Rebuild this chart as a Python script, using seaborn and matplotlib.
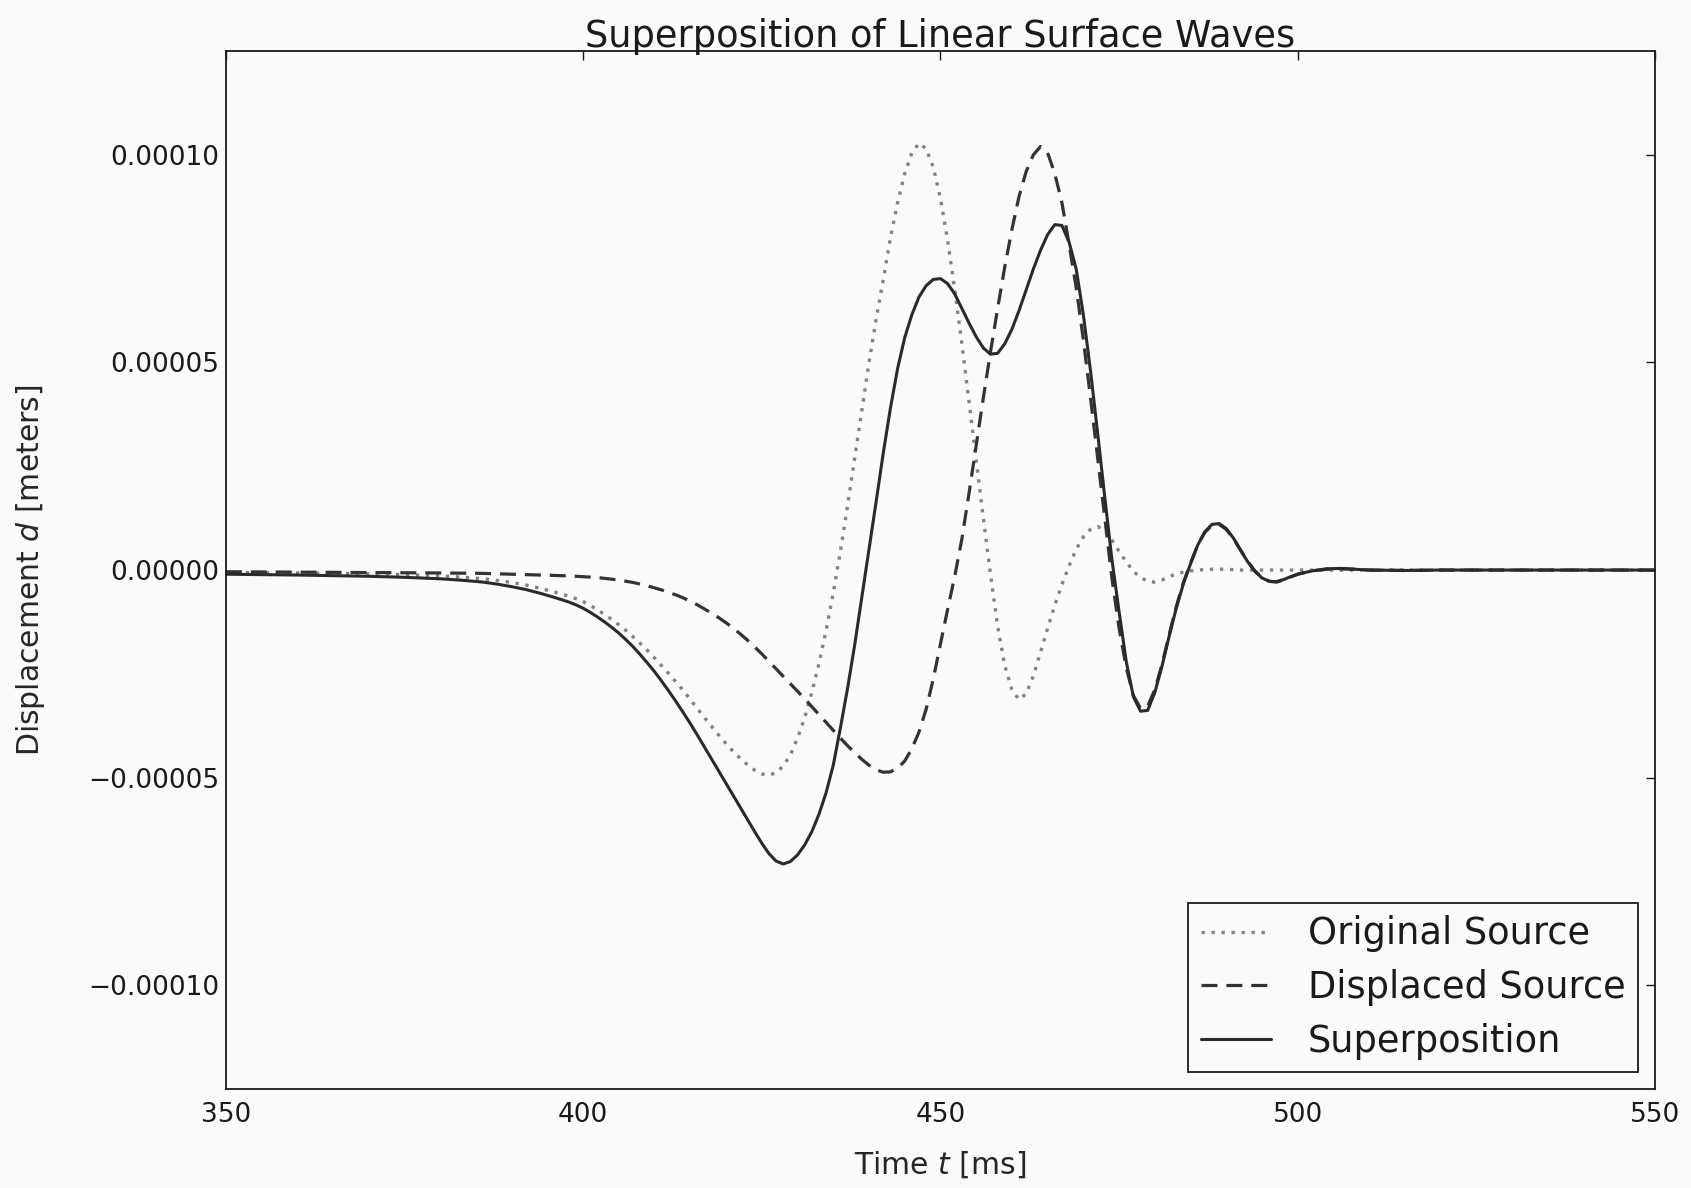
import matplotlib
matplotlib.use("Agg")
import matplotlib.pyplot as plt
from matplotlib.ticker import FixedLocator, FuncFormatter
import pandas as pd
import seaborn as sns

# Sample times (ms)
time_ms = [
    350, 355, 360, 365, 370, 375, 380, 383, 386, 388, 390, 392, 394, 396, 398, 399,
    400, 401, 402, 403, 404, 405, 406, 407, 408, 409,
    410, 411, 412, 413, 414, 415, 416, 417, 418, 419,
    420, 421, 422, 423, 424, 425, 426, 427, 428, 429,
    430, 431, 432, 433, 434, 435, 436, 437, 438, 439,
    440, 441, 442, 443, 444, 445, 446, 447, 448, 449,
    450, 451, 452, 453, 454, 455, 456, 457, 458, 459,
    460, 461, 462, 463, 464, 465, 466, 467, 468, 469,
    470, 471, 472, 473, 474, 475, 476, 477, 478, 479,
    480, 481, 482, 483, 484, 485, 486, 487, 488, 489,
    490, 491, 492, 493, 494, 495, 496, 497, 498, 499,
    500, 502, 504, 506, 508, 510, 515, 520, 530, 540, 550,
]

# Displacements in units of 1e-5 m
original_source = [
    -0.06, -0.065, -0.07, -0.08, -0.09, -0.11, -0.14, -0.17, -0.21, -0.25, -0.30, -0.36, -0.44, -0.53, -0.63, -0.69,
    -0.76, -0.85, -0.96, -1.07, -1.19, -1.32, -1.46, -1.61, -1.77, -1.94,
    -2.12, -2.31, -2.50, -2.70, -2.90, -3.12, -3.34, -3.56, -3.77, -3.98,
    -4.18, -4.37, -4.54, -4.69, -4.82, -4.91, -4.94, -4.88, -4.72, -4.45,
    -4.05, -3.55, -2.95, -2.25, -1.45, -0.55, 0.45, 1.55, 2.70, 3.85,
    5.00, 6.05, 7.00, 8.00, 8.85, 9.55, 10.05, 10.28, 10.15, 9.70,
    8.95, 7.95, 6.75, 5.45, 4.05, 2.65, 1.25, -0.10, -1.35, -2.30,
    -2.88, -3.12, -2.98, -2.55, -1.98, -1.40, -0.85, -0.35, 0.10, 0.50,
    0.80, 0.98, 1.05, 0.95, 0.72, 0.45, 0.20, -0.03, -0.18, -0.27,
    -0.29, -0.24, -0.16, -0.09, -0.05, -0.02, 0.00, 0.01, 0.02, 0.02,
    0.02, 0.01, 0.00, 0.00, 0.00, 0.00, 0.00, 0.00, 0.00, 0.00,
    0.00, 0.00, 0.00, 0.00, 0.00, 0.00, 0.00, 0.00, 0.00, 0.00, 0.00,
]

displaced_source = [
    -0.04, -0.045, -0.05, -0.055, -0.06, -0.065, -0.07, -0.075, -0.08, -0.09, -0.10, -0.11, -0.12, -0.13, -0.14, -0.15,
    -0.16, -0.17, -0.18, -0.20, -0.22, -0.24, -0.27, -0.30, -0.34, -0.38,
    -0.43, -0.48, -0.54, -0.60, -0.67, -0.75, -0.84, -0.94, -1.04, -1.15,
    -1.27, -1.40, -1.54, -1.69, -1.85, -2.02, -2.20, -2.38, -2.56, -2.74,
    -2.92, -3.10, -3.29, -3.48, -3.67, -3.86, -4.05, -4.23, -4.40, -4.56,
    -4.70, -4.81, -4.87, -4.86, -4.77, -4.60, -4.30, -3.90, -3.35, -2.62,
    -1.78, -0.95, -0.15, 0.75, 1.85, 3.00, 4.15, 5.25, 6.30, 7.30,
    8.20, 9.00, 9.60, 10.00, 10.20, 10.05, 9.55, 8.85, 7.85, 6.80,
    5.55, 4.15, 2.70, 1.25, -0.20, -1.40, -2.35, -3.02, -3.33, -3.28,
    -2.88, -2.28, -1.56, -0.88, -0.30, 0.17, 0.60, 0.91, 1.08, 1.10,
    0.98, 0.76, 0.48, 0.21, -0.02, -0.18, -0.27, -0.29, -0.24, -0.17,
    -0.10, -0.02, 0.02, 0.03, 0.02, 0.00, -0.01, 0.00, 0.00, 0.00, 0.00,
]

superposition = [
    -0.10, -0.11, -0.12, -0.135, -0.15, -0.175, -0.21, -0.245, -0.29, -0.34, -0.40, -0.47, -0.56, -0.66, -0.77, -0.84,
    -0.92, -1.02, -1.13, -1.25, -1.38, -1.52, -1.68, -1.85, -2.04, -2.24,
    -2.45, -2.68, -2.92, -3.17, -3.43, -3.70, -3.98, -4.27, -4.56, -4.85,
    -5.14, -5.43, -5.72, -6.01, -6.30, -6.58, -6.83, -7.01, -7.08, -7.02,
    -6.86, -6.62, -6.30, -5.88, -5.36, -4.70, -3.80, -2.85, -1.80, -0.65,
    0.50, 1.65, 2.82, 3.90, 4.85, 5.60, 6.15, 6.58, 6.85, 7.00,
    7.02, 6.90, 6.65, 6.30, 5.95, 5.62, 5.35, 5.20, 5.22, 5.45,
    5.80, 6.25, 6.75, 7.25, 7.70, 8.08, 8.32, 8.30, 7.90, 7.25,
    6.15, 4.80, 3.30, 1.75, 0.25, -1.00, -2.20, -3.05, -3.40, -3.38,
    -2.95, -2.32, -1.60, -0.92, -0.33, 0.15, 0.60, 0.92, 1.10, 1.12,
    1.00, 0.77, 0.48, 0.20, -0.03, -0.19, -0.27, -0.28, -0.23, -0.16,
    -0.10, -0.02, 0.03, 0.04, 0.02, 0.00, -0.01, 0.00, 0.00, 0.00, 0.00,
]

series_labels = ["Original Source", "Displaced Source", "Superposition"]
x_ticks = [350, 400, 450, 500, 550]
y_ticks = [-1e-4, -5e-5, 0.0, 5e-5, 1e-4]
unit = 1e-5

sns.set_style("white")
plt.rcParams.update({
    "font.family": ["DejaVu Sans"],
    "mathtext.fontset": "dejavusans",
    "xtick.direction": "in",
    "ytick.direction": "in",
    "xtick.top": True,
    "ytick.right": True,
    "xtick.major.size": 6.5,
    "ytick.major.size": 6.5,
    "xtick.major.width": 1.0,
    "ytick.major.width": 1.0,
    "axes.edgecolor": "#1a1a1a",
    "axes.linewidth": 1.3,
    "text.color": "#1a1a1a",
    "xtick.color": "#1a1a1a",
    "ytick.color": "#1a1a1a",
})

df = pd.DataFrame({
    "time": time_ms,
    series_labels[0]: [v * unit for v in original_source],
    series_labels[1]: [v * unit for v in displaced_source],
    series_labels[2]: [v * unit for v in superposition],
})

fig = plt.figure(figsize=(16.91, 11.88), dpi=100, facecolor="#fafafa")
ax = fig.add_axes([0.1336, 0.0833, 0.8451, 0.8737])
ax.set_facecolor("#fafafa")

styles = [
    dict(color="#828282", lw=2.4, linestyle=(0, (1, 2.0))),
    dict(color="#333333", lw=2.3, linestyle=(0, (5.0, 2.8))),
    dict(color="#2a2a2a", lw=2.2, linestyle="-"),
]
for name, st in zip(series_labels, styles):
    sns.lineplot(data=df, x="time", y=name, ax=ax, label=name, **st)

ax.set_xlim(350, 550)
ax.set_ylim(-1.25e-4, 1.25e-4)
ax.xaxis.set_major_locator(FixedLocator(x_ticks))
ax.yaxis.set_major_locator(FixedLocator(y_ticks))
ax.yaxis.set_major_formatter(FuncFormatter(lambda v, p: f"{v:.5f}".replace("-", "\u2212")))
ax.tick_params(axis="x", labelsize=19, pad=9.5)
ax.tick_params(axis="y", labelsize=19, pad=5)

ax.set_title("Superposition of Linear Surface Waves", fontsize=26.5, pad=3)
ax.set_xlabel("Time $t$ [ms]", fontsize=21.5)
ax.set_ylabel("Displacement $d$ [meters]", fontsize=21.5)
ax.xaxis.set_label_coords(0.5, -0.058)
ax.yaxis.set_label_coords(-0.125, 0.5)

leg = ax.legend(loc="lower right", fontsize=26.5, frameon=True, fancybox=False,
                framealpha=1.0, facecolor="#fafafa", edgecolor="#1a1a1a",
                handlelength=1.9, handletextpad=1.0, borderpad=0.35,
                labelspacing=0.45, borderaxespad=0.45)
leg.get_frame().set_linewidth(1.3)

fig.savefig("out.png", dpi=100, facecolor=fig.get_facecolor())
